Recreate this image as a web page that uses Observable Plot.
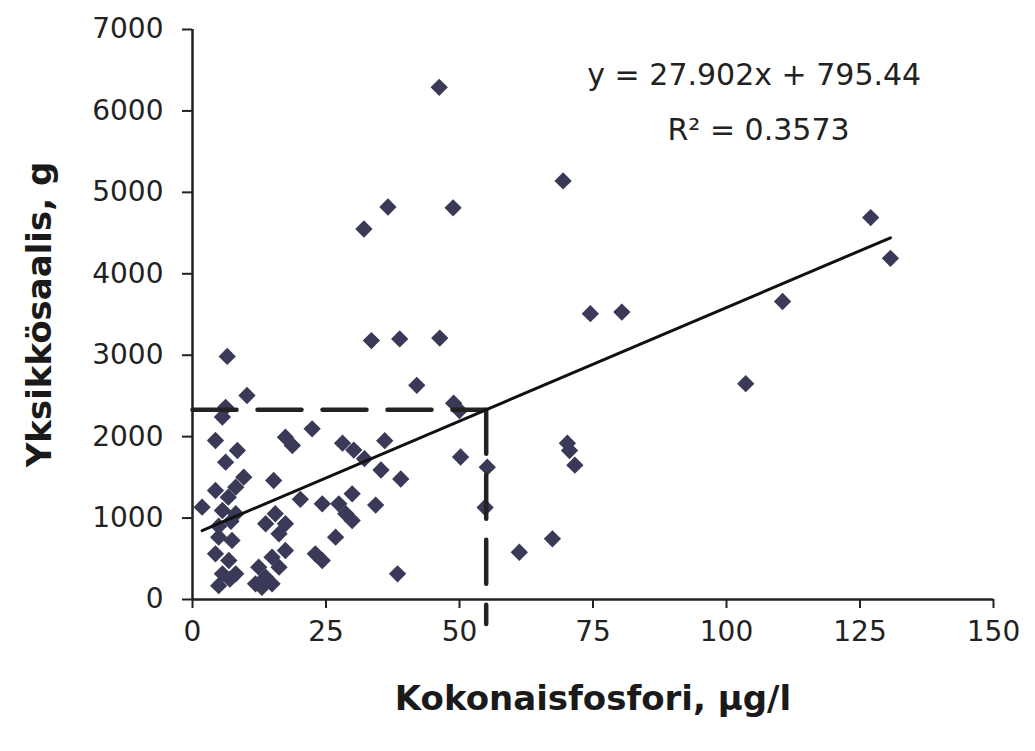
<!DOCTYPE html>
<html>
<head>
<meta charset="utf-8">
<script src="https://cdn.jsdelivr.net/npm/d3@7"></script>
<script src="https://cdn.jsdelivr.net/npm/@observablehq/plot@0.6"></script>
<style>
  body { margin: 0; background: #fff; }
  #chart svg { display: block; }
</style>
</head>
<body>
<div id="chart"></div>
<script>
// Total phosphorus of each lake (µg/l)
const phosphorus = [
  // high-catch and high-phosphorus lakes
  46.2, 69.4, 36.6, 48.8, 32.1, 127.0, 130.7, 110.5, 74.5, 80.4,
  33.5, 38.8, 46.3, 103.6, 42.0, 48.9, 50.0, 70.2, 70.6, 71.6,
  67.4, 61.2, 55.2, 54.8, 50.2,
  // lakes below 40 µg/l
  6.5, 6.2, 10.2, 5.6, 4.3, 8.4, 6.2, 17.4, 18.7, 22.4,
  9.6, 15.2, 4.3, 6.7, 8.1, 1.8, 5.6, 8.1, 4.9, 7.2,
  4.9, 7.4, 4.3, 6.8, 5.6, 8.1, 4.9, 7.0, 15.5, 13.7,
  17.4, 16.2, 17.4, 14.9, 12.4, 16.2, 13.7, 11.8, 14.9, 13.0,
  23.0, 24.3, 28.1, 30.2, 32.2, 36.0, 35.3, 39.0, 29.9, 34.3,
  27.4, 28.7, 29.9, 24.3, 26.8, 38.4, 20.2
];

// Unit catch for the same lakes (g)
const unitCatch = [
  6290, 5140, 4820, 4810, 4550, 4690, 4190, 3660, 3510, 3530,
  3180, 3200, 3210, 2650, 2630, 2410, 2320, 1920, 1830, 1650,
  745, 580, 1625, 1130, 1750,
  2985, 2360, 2505, 2240, 1953, 1830, 1686, 1993, 1891, 2096,
  1502, 1461, 1339, 1257, 1380, 1134, 1093, 1053, 900, 960,
  765, 725, 561, 479, 315, 315, 170, 250, 1053, 930,
  930, 807, 602, 520, 397, 397, 274, 193, 193, 150,
  561, 479, 1920, 1835, 1730, 1950, 1590, 1480, 1298, 1160,
  1175, 1053, 970, 1175, 765, 315, 1230
];

const xTicks = [0, 25, 50, 75, 100, 125, 150];
const yTicks = [0, 1000, 2000, 3000, 4000, 5000, 6000, 7000];

// Linear trend fitted to the lakes
const slope = 27.902;
const intercept = 795.44;
const rSquared = 0.3573;

// Reference phosphorus level
const refPhosphorus = 55;
const guideBottom = -300;

const points = phosphorus.map((p, i) => ({p, c: unitCatch[i]}));
const fit = p => slope * p + intercept;
const trend = d3.extent(phosphorus).map(p => ({p, c: fit(p)}));
const refCatch = fit(refPhosphorus);
const guideH = [{p: 0, c: refCatch}, {p: refPhosphorus, c: refCatch}];
const guideV = [{p: refPhosphorus, c: refCatch}, {p: refPhosphorus, c: guideBottom}];

const font = "DejaVu Sans, Liberation Sans, Arial, sans-serif";

const chart = Plot.plot({
  width: 1035,
  height: 751,
  marginLeft: 192,
  marginRight: 42,
  marginTop: 29,
  marginBottom: 152,
  style: {fontFamily: font, background: "#fff", color: "#222"},
  x: {domain: [0, 150]},
  y: {domain: [0, 7000]},
  marks: [
    Plot.axisX(xTicks, {
      tickSize: 9, tickPadding: 13, fontSize: 28, strokeWidth: 2,
      tickFormat: d3.format("d"), label: null
    }),
    Plot.axisY(yTicks, {
      tickSize: 10, tickPadding: 19, fontSize: 28, strokeWidth: 2,
      tickFormat: d3.format("d"), label: null
    }),
    Plot.ruleY([0], {stroke: "#222", strokeWidth: 2.5}),
    Plot.ruleX([0], {stroke: "#222", strokeWidth: 2.5}),
    Plot.dot(points, {
      x: "p", y: "c", symbol: "diamond2", r: 7.8,
      fill: "#3a3a58", stroke: null
    }),
    Plot.line(guideH, {
      x: "p", y: "c", stroke: "#222", strokeWidth: 4.5, strokeDasharray: "44,21"
    }),
    Plot.line(guideV, {
      x: "p", y: "c", stroke: "#222", strokeWidth: 4.5, strokeDasharray: "44,21"
    }),
    Plot.line(trend, {x: "p", y: "c", stroke: "#111", strokeWidth: 3}),
    Plot.text([`y = ${slope}x + ${intercept}`], {
      x: 105.2, y: 6435, text: d => d, fontSize: 30, fill: "#222"
    }),
    Plot.text([`R² = ${rSquared}`], {
      x: 106, y: 5760, text: d => d, fontSize: 30, fill: "#222"
    }),
    Plot.text(["Kokonaisfosfori, µg/l"], {
      frameAnchor: "bottom", dy: 110, text: d => d,
      fontSize: 34, fontWeight: "bold", fill: "#1a1a1a"
    }),
    Plot.text(["Yksikkösaalis, g"], {
      frameAnchor: "left", textAnchor: "middle", dx: -152, rotate: -90,
      text: d => d, fontSize: 34, fontWeight: "bold", fill: "#1a1a1a"
    })
  ]
});

document.getElementById("chart").append(chart);
</script>
</body>
</html>
